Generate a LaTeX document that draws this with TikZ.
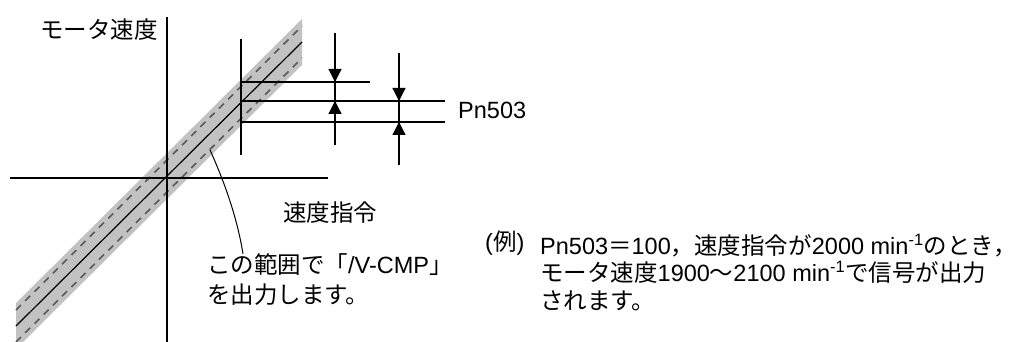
\documentclass[tikz,border=0pt]{standalone}
\usepackage{fontspec}
\setmainfont{Liberation Sans}
\newfontfamily\jp{Noto Sans CJK JP}
\usepackage{xcolor}
\usepackage{tikz}
\usetikzlibrary{positioning, arrows.meta}
\definecolor{bandgray}{gray}{0.76}
\definecolor{dashgray}{gray}{0.35}

\begin{document}
\begin{tikzpicture}[
    x=1pt, y=-1pt,
    axis/.style={line width=1.3pt},
    dim/.style={line width=1.2pt},
    dimarrow/.style={line width=1.2pt, -{Triangle[length=13pt, width=13pt]}},
    bandedge/.style={dashgray, line width=1.6pt, dash pattern=on 7pt off 6pt},
    label/.style={font=\fontsize{23.5}{27.5}\selectfont, inner sep=0pt, align=left}
]
\useasboundingbox (0,0) rectangle (1022,342);

\coordinate (o) at (167,178);
\coordinate (bandlo) at (16,326);
\coordinate (bandhi) at (302,42);

\fill[bandgray] (16,303) -- (302,19) -- (302,65) -- (23,342) -- (16,342) -- cycle;
\draw[bandedge] (16,310) -- (302,26);
\draw[bandedge] (16,342) -- (302,58);
\draw[line width=1.2pt] (bandlo) -- (bandhi);

\draw[axis] (10,178) -- (328,178);
\draw[axis] (167,17) -- (167,342);

\coordinate (reftop) at (241,39);
\coordinate (refbot) at (241,155);
\draw[dim] (reftop) -- (refbot);
\draw[dim] (241,82) -- (370,82);
\draw[dim] (241,101) -- (445,101);
\draw[dim] (241,122) -- (445,122);

\draw[dim] (335,33) -- (335,145);
\draw[dimarrow] (335,33) -- (335,82);
\draw[dimarrow] (335,145) -- (335,101);
\draw[dim] (399,53) -- (399,165);
\draw[dimarrow] (399,53) -- (399,101);
\draw[dimarrow] (399,165) -- (399,122);

\node[label, anchor=east] (motor) at (158,30) {\jp モータ速度};
\node[label, anchor=west] (cmd) at (283,213) {\jp 速度指令};
\node[label, anchor=west] (pn) at (458,110) {Pn503};
\node[label, font=\fontsize{23.5}{30}\selectfont, anchor=west] (range) at (207,280)
    {{\jp この範囲で「}/V-CMP{\jp 」}\\{\jp を出力します。}};

\coordinate (rangept) at (210,150);
\draw[line width=1pt] (rangept) .. controls (219,170) and (236,210) .. (range.north -| 243,0);

\node[label, anchor=west] (ex) at (485,243) {({\jp 例})};
\node[label, anchor=west] (note) at (540,272.5)
    {Pn503{\jp ＝}100{\jp ，速度指令が}2000 min\textsuperscript{-1}{\jp のとき，}\\
     {\jp モータ速度}1900{\jp ～}2100 min\textsuperscript{-1}{\jp で信号が出力}\\
     {\jp されます。}};
\end{tikzpicture}
\end{document}
